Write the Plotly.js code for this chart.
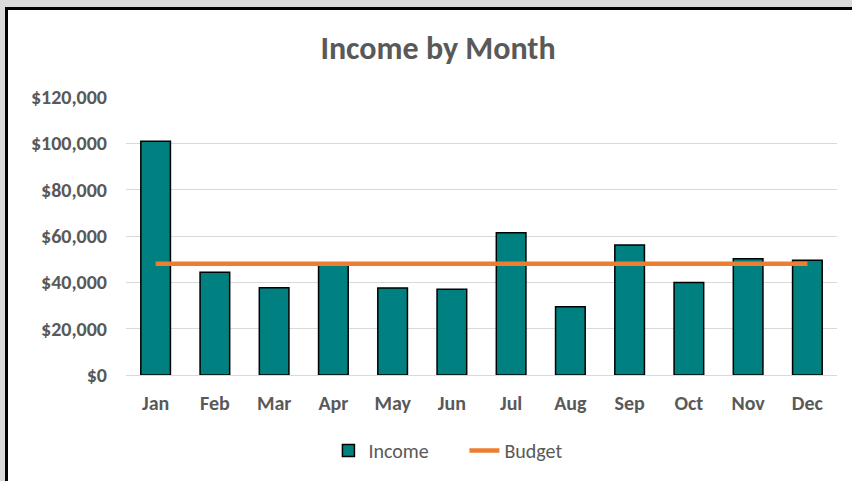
<!DOCTYPE html>
<html>
<head>
<meta charset="utf-8">
<script src="https://cdn.plot.ly/plotly-3.0.1.min.js"></script>
<style>
  html, body { margin: 0; padding: 0; width: 852px; height: 481px; overflow: hidden; background: #d9d9d9; }
  #frame { position: absolute; left: 5px; top: 7px; border-left: 3px solid #000; border-top: 3px solid #000; background: #fff; width: 860px; height: 480px; }
  #chart { width: 860px; height: 471px; }
</style>
</head>
<body>
<div id="frame"><div id="chart"></div></div>
<script>
const months = ["Jan","Feb","Mar","Apr","May","Jun","Jul","Aug","Sep","Oct","Nov","Dec"];
const income = [100900, 44300, 37700, 47500, 37600, 37000, 61400, 29500, 56100, 39900, 50200, 49500];
const budget = [48000, 48000, 48000, 48000, 48000, 48000, 48000, 48000, 48000, 48000, 48000, 48000];
const yTickVals = [0, 20000, 40000, 60000, 80000, 100000, 120000];
const yTickText = ["$0", "$20,000", "$40,000", "$60,000", "$80,000", "$100,000", "$120,000"];

const FONT = "Carlito, Calibri, Lato, sans-serif";

const traces = [
  {
    type: "bar", name: "Income", x: months, y: income,
    marker: { color: "#008080", line: { color: "#000000", width: 1.5 } },
    hoverinfo: "skip"
  },
  {
    type: "scatter", mode: "lines", name: "Budget", x: months, y: budget,
    line: { color: "#ED7D31", width: 4.5 },
    hoverinfo: "skip"
  }
];

const layout = {
  width: 860, height: 471,
  margin: { l: 118, r: 31, t: 87, b: 105, pad: 0 },
  paper_bgcolor: "#ffffff", plot_bgcolor: "#ffffff",
  font: { family: FONT, color: "#595959", size: 20 },
  title: {
    text: "<b>Income by Month</b>",
    font: { family: FONT, size: 32, color: "#595959" },
    x: 0.5, xanchor: "center", xref: "container",
    y: 0.919, yanchor: "middle", yref: "container"
  },
  bargap: 0.5,
  showlegend: true,
  legend: {
    orientation: "h", x: 0.476, xanchor: "center", y: -0.2666, yanchor: "middle",
    font: { family: FONT, size: 20, color: "#595959" },
    itemwidth: 30, entrywidth: 91, entrywidthmode: "pixels", traceorder: "normal"
  },
  xaxis: {
    type: "category", categoryarray: months, categoryorder: "array",
    showgrid: false, zeroline: false, showline: false, ticks: "",
    tickfont: { family: FONT, size: 20, color: "#595959", weight: "bold" },
    ticklabelstandoff: 14, fixedrange: true
  },
  yaxis: {
    range: [0, 120000], tickmode: "array", tickvals: yTickVals, ticktext: yTickText,
    showgrid: true, gridcolor: "#d9d9d9", gridwidth: 1,
    zeroline: true, zerolinecolor: "#d9d9d9", zerolinewidth: 1,
    showline: false, ticks: "",
    tickfont: { family: FONT, size: 20, color: "#595959", weight: "bold" },
    ticklabelstandoff: 18, fixedrange: true
  }
};

Plotly.newPlot("chart", traces, layout, { displayModeBar: false, staticPlot: true });
</script>
</body>
</html>
